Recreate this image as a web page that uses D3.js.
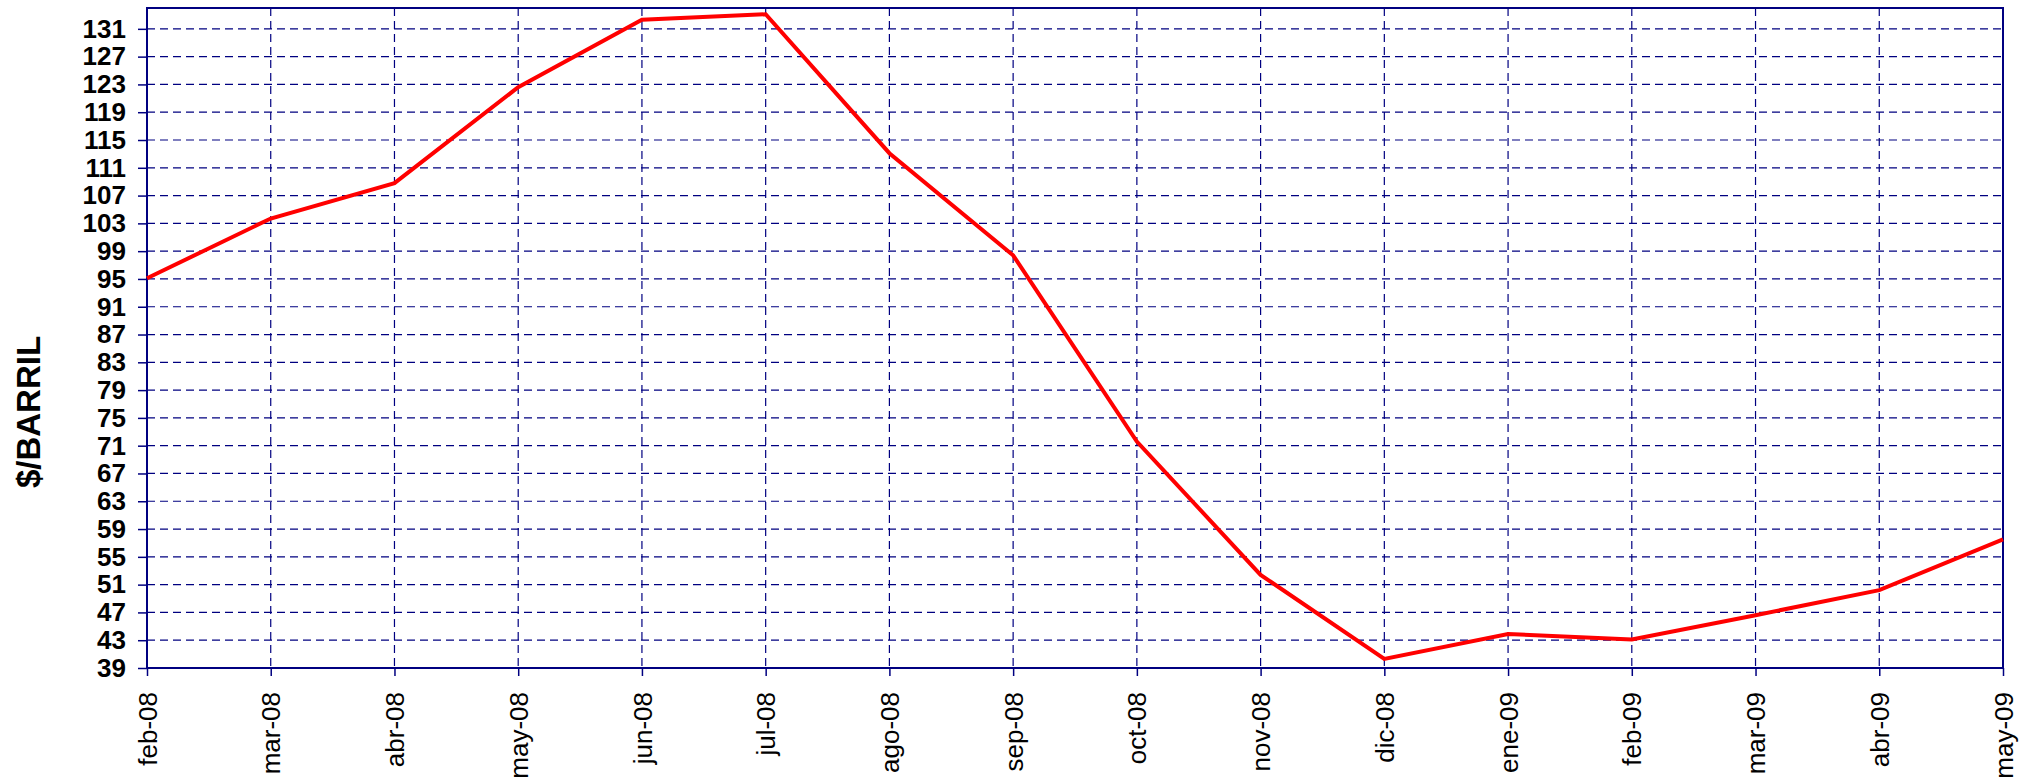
<!DOCTYPE html>
<html>
<head>
<meta charset="utf-8">
<script src="https://cdn.jsdelivr.net/npm/d3@7"></script>
<style>
  html, body { margin: 0; padding: 0; background: #fff; }
  text { font-family: "Liberation Sans", Arial, sans-serif; }
</style>
</head>
<body>
<div id="chart"></div>
<script>
// monthly crude price, $/barril
const months = ["feb-08", "mar-08", "abr-08", "may-08", "jun-08", "jul-08", "ago-08", "sep-08",
                "oct-08", "nov-08", "dic-08", "ene-09", "feb-09", "mar-09", "abr-09", "may-09"];
const prices = [95.1, 103.7, 108.8, 122.6, 132.3, 133.1, 113.1, 98.4,
                71.6, 52.4, 40.3, 43.9, 43.1, 46.6, 50.2, 57.5];
const yTicks = [39, 43, 47, 51, 55, 59, 63, 67, 71, 75, 79, 83, 87, 91, 95, 99,
                103, 107, 111, 115, 119, 123, 127, 131];

const width = 2031,
      height = 781;
const margin = { top: 8, right: 28, bottom: 113, left: 147 };
const navy = "#000080";

const svg = d3.select("#chart").append("svg")
    .attr("width", width)
    .attr("height", height);

const x = d3.scalePoint()
    .domain(months)
    .range([margin.left, width - margin.right]);

const y = d3.scaleLinear()
    .domain([39, 134])
    .range([height - margin.bottom, margin.top]);

const data = months.map((m, i) => ({ month: m, value: prices[i] }));

// grid
const grid = svg.append("g")
    .attr("stroke", navy)
    .attr("stroke-width", 1.2)
    .attr("stroke-dasharray", "8,5");

grid.selectAll("line.h")
    .data(yTicks.filter(d => d > 39))
    .join("line")
    .attr("class", "h")
    .attr("x1", margin.left)
    .attr("x2", width - margin.right)
    .attr("y1", d => y(d))
    .attr("y2", d => y(d));

grid.selectAll("line.v")
    .data(months.slice(1, -1))
    .join("line")
    .attr("class", "v")
    .attr("x1", d => x(d))
    .attr("x2", d => x(d))
    .attr("y1", margin.top)
    .attr("y2", height - margin.bottom);

// axes
const yAxis = svg.append("g")
    .attr("transform", `translate(${margin.left},0)`)
    .call(d3.axisLeft(y).tickValues(yTicks).tickSize(9).tickPadding(12));

yAxis.select(".domain").remove();
yAxis.selectAll("line").attr("stroke", navy).attr("stroke-width", 1.5);
yAxis.selectAll("text")
    .attr("fill", "#000")
    .style("font-size", "26px")
    .style("font-weight", "bold");

const xAxis = svg.append("g")
    .attr("transform", `translate(0,${height - margin.bottom})`)
    .call(d3.axisBottom(x).tickSize(8));

xAxis.select(".domain").remove();
xAxis.selectAll("line").attr("stroke", navy).attr("stroke-width", 1.5);
xAxis.selectAll("text")
    .attr("fill", "#000")
    .attr("x", 0)
    .attr("y", 0)
    .attr("dy", "0.35em")
    .attr("text-anchor", "end")
    .attr("transform", "translate(0,24) rotate(-90)")
    .style("font-size", "26px");

// plot frame
svg.append("rect")
    .attr("x", margin.left)
    .attr("y", margin.top)
    .attr("width", width - margin.right - margin.left)
    .attr("height", height - margin.bottom - margin.top)
    .attr("fill", "none")
    .attr("stroke", navy)
    .attr("stroke-width", 2);

// price line
const line = d3.line()
    .x(d => x(d.month))
    .y(d => y(d.value));

svg.append("path")
    .datum(data)
    .attr("fill", "none")
    .attr("stroke", "#ff0000")
    .attr("stroke-width", 4)
    .attr("stroke-linejoin", "miter")
    .attr("d", line);

// y title
svg.append("text")
    .attr("transform", "translate(40,412) rotate(-90)")
    .attr("text-anchor", "middle")
    .style("font-size", "33px")
    .style("font-weight", "bold")
    .text("$/BARRIL");
</script>
</body>
</html>
